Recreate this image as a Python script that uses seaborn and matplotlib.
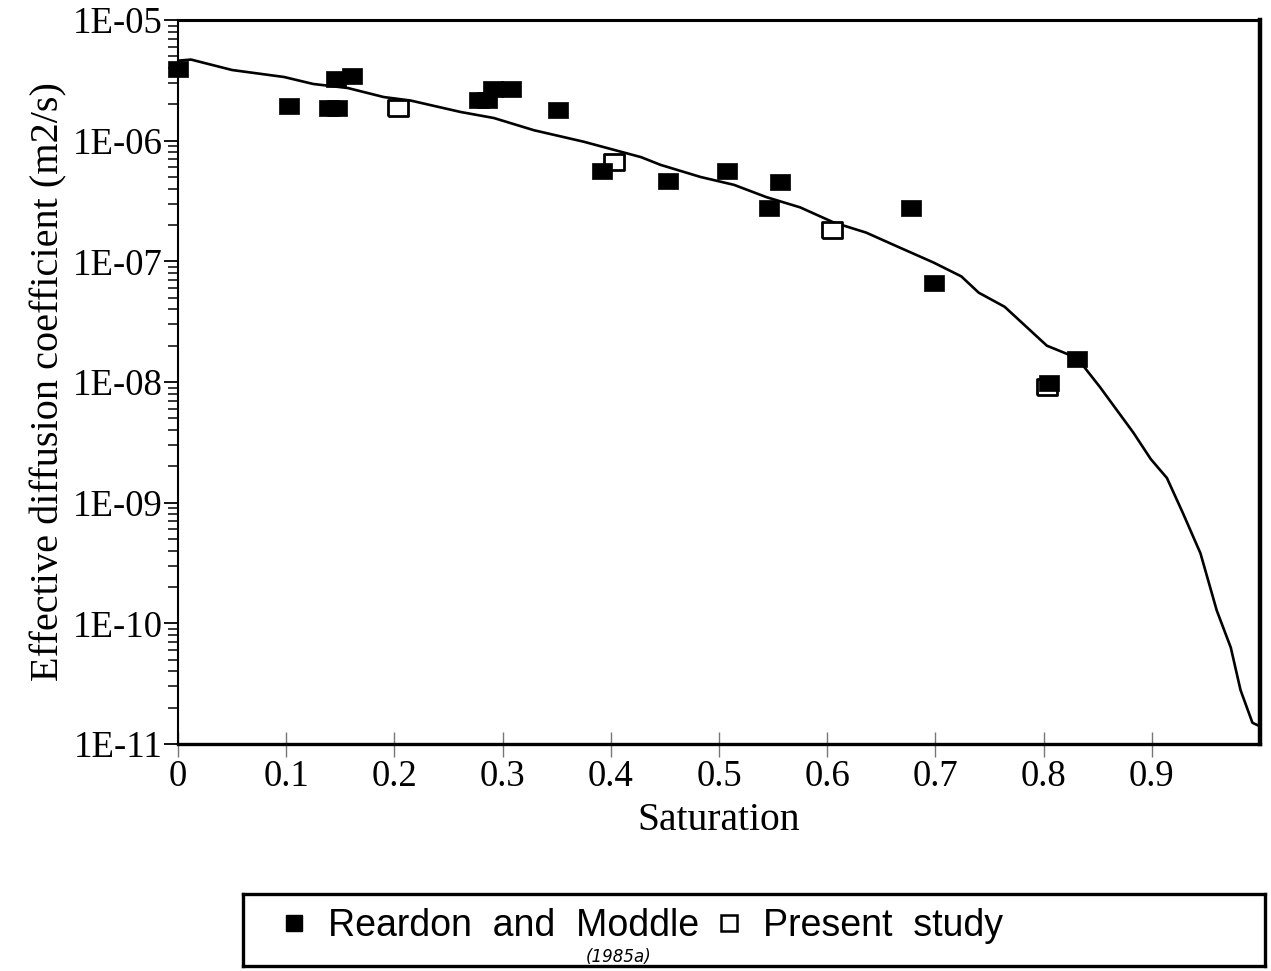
import matplotlib
matplotlib.use("Agg")
import matplotlib.pyplot as plt
from matplotlib.lines import Line2D
from matplotlib.markers import MarkerStyle
from matplotlib.ticker import LogLocator, FuncFormatter, NullFormatter
import numpy as np
import seaborn as sns

# Reardon and Moddle (1985a) measurements (filled squares)
reardon_sat = [0.0, 0.103, 0.140, 0.147, 0.146, 0.161, 0.278, 0.286, 0.291, 0.308,
               0.351, 0.392, 0.453, 0.507, 0.546, 0.556, 0.677, 0.699, 0.805, 0.831]
reardon_deff = [3.96e-6, 1.94e-6, 1.87e-6, 1.87e-6, 3.24e-6, 3.43e-6, 2.19e-6, 2.19e-6,
                2.70e-6, 2.68e-6, 1.78e-6, 5.65e-7, 4.67e-7, 5.65e-7, 2.76e-7, 4.58e-7,
                2.76e-7, 6.6e-8, 9.8e-9, 1.55e-8]

# Present study (open squares)
present_sat = [0.203, 0.403, 0.604, 0.803]
present_deff = [1.86e-6, 6.6e-7, 1.82e-7, 9.1e-9]

# model curve
curve_sat = [0.0, 0.012, 0.05, 0.098, 0.125, 0.157, 0.19, 0.215, 0.261, 0.292, 0.329,
             0.375, 0.428, 0.446, 0.483, 0.514, 0.544, 0.575, 0.606, 0.636, 0.667,
             0.698, 0.724, 0.74, 0.764, 0.803, 0.831, 0.852, 0.883, 0.899, 0.914,
             0.929, 0.945, 0.960, 0.973, 0.982, 0.993, 1.0]
curve_deff = [4.6e-6, 4.7e-6, 3.85e-6, 3.37e-6, 2.95e-6, 2.73e-6, 2.3e-6, 2.15e-6,
              1.73e-6, 1.54e-6, 1.22e-6, 9.8e-7, 7.3e-7, 6.3e-7, 5.0e-7, 4.3e-7,
              3.4e-7, 2.8e-7, 2.1e-7, 1.73e-7, 1.3e-7, 9.8e-8, 7.5e-8, 5.5e-8, 4.2e-8,
              2.0e-8, 1.58e-8, 9.1e-9, 3.8e-9, 2.3e-9, 1.6e-9, 8.1e-10, 3.8e-10,
              1.28e-10, 6.3e-11, 2.8e-11, 1.5e-11, 1.4e-11]

x_ticks = [0, 0.1, 0.2, 0.3, 0.4, 0.5, 0.6, 0.7, 0.8, 0.9]
x_tick_labels = ["0", "0.1", "0.2", "0.3", "0.4", "0.5", "0.6", "0.7", "0.8", "0.9"]

sns.set_style("ticks")
plt.rcParams["font.family"] = ["Liberation Serif", "DejaVu Serif"]
plt.rcParams["text.color"] = "black"
plt.rcParams["axes.labelcolor"] = "black"
plt.rcParams["xtick.labelcolor"] = "black"
plt.rcParams["ytick.labelcolor"] = "black"

fig = plt.figure(figsize=(12.71, 9.71), dpi=100)
ax = fig.add_axes([178 / 1271, 227 / 971, (1260 - 178) / 1271, 724 / 971])

# slightly wide rectangle marker like the original
rect = MarkerStyle([(-1.3, -1), (1.3, -1), (1.3, 1), (-1.3, 1), (-1.3, -1)])

sns.lineplot(x=curve_sat, y=curve_deff, ax=ax, color="black", linewidth=1.9,
             sort=False, zorder=2)
sns.scatterplot(x=present_sat, y=present_deff, ax=ax, marker=rect, s=200,
                facecolor="white", edgecolor="black", linewidth=2.0, zorder=3,
                clip_on=False)
sns.scatterplot(x=reardon_sat, y=reardon_deff, ax=ax, marker=rect, s=225,
                color="black", edgecolor="black", linewidth=0.5, zorder=4,
                clip_on=False)

ax.set_yscale("log")
ax.set_ylim(1e-11, 1e-5)
ax.set_xlim(0, 1.0)

ax.yaxis.set_major_locator(LogLocator(base=10, numticks=20))
ax.yaxis.set_minor_locator(LogLocator(base=10, subs=np.arange(2, 10), numticks=20))
ax.yaxis.set_major_formatter(FuncFormatter(lambda v, p: f"1E{int(round(np.log10(v))):03d}"))
ax.yaxis.set_minor_formatter(NullFormatter())

ax.set_xticks(x_ticks)
ax.set_xticklabels(x_tick_labels)

ax.tick_params(axis="y", which="major", direction="out", length=10, width=1.3,
               labelsize=26.5, pad=1, color="black")
ax.tick_params(axis="y", which="minor", direction="out", length=7, width=1.1,
               color="black")
ax.tick_params(axis="x", which="major", direction="inout", length=18, width=1.0,
               color="#777777", labelsize=26.5, pad=2)

ax.set_xlabel("Saturation", fontsize=28.5, labelpad=6)
ax.set_ylabel("Effective diffusion coefficient (m2/s)", fontsize=29, labelpad=4)

for side, lw in [("top", 2.2), ("right", 3.2), ("bottom", 2.4), ("left", 1.5)]:
    ax.spines[side].set_linewidth(lw)
    ax.spines[side].set_color("black")

# legend box below the chart
lax = fig.add_axes([243 / 1271, 5 / 971, (1265 - 243) / 1271, 72 / 971])
lax.set_xticks([])
lax.set_yticks([])
for sp in lax.spines.values():
    sp.set_linewidth(2.4)
    sp.set_color("black")

handles = [
    Line2D([], [], linestyle="none", marker="s", markersize=12,
           markerfacecolor="black", markeredgecolor="black"),
    Line2D([], [], linestyle="none", marker="s", markersize=12,
           markerfacecolor="white", markeredgecolor="black", markeredgewidth=1.8),
]
lax.legend(handles, ["Reardon  and  Moddle", "Present  study"], loc="center left",
           bbox_to_anchor=(0.032, 0.56), frameon=False, ncol=2, handlelength=1.0,
           handletextpad=0.4, columnspacing=0.3, borderpad=0, borderaxespad=0,
           prop={"family": "Liberation Sans", "size": 27})
lax.text((619 - 243) / 1022, (966 - 957) / 72, "(1985a)", ha="center", va="center",
         fontsize=12, fontstyle="italic", family="DejaVu Sans")

fig.savefig("out.png", dpi=100)
plt.close(fig)
